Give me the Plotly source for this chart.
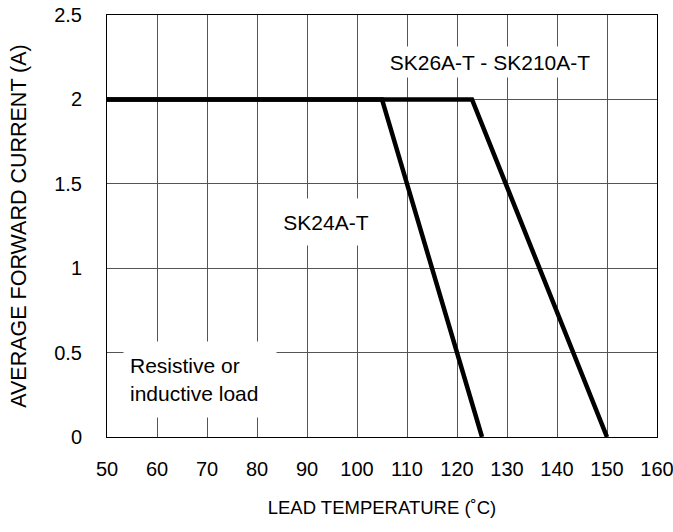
import plotly.graph_objects as go

# Data
sk24_temp = [50, 105, 125]
sk24_current = [2, 2, 0]
sk26_temp = [50, 123, 150]
sk26_current = [2, 2, 0]

x_ticks = [50, 60, 70, 80, 90, 100, 110, 120, 130, 140, 150, 160]
y_ticks = [0, 0.5, 1, 1.5, 2, 2.5]
y_tick_labels = ["0", "0.5", "1", "1.5", "2", "2.5"]

FONT = "Arial, Liberation Sans, sans-serif"

fig = go.Figure()
fig.add_trace(go.Scatter(x=sk26_temp, y=sk26_current, mode="lines",
                         line=dict(color="black", width=4.5), name="SK26A-T - SK210A-T",
                         hoverinfo="x+y"))
fig.add_trace(go.Scatter(x=sk24_temp, y=sk24_current, mode="lines",
                         line=dict(color="black", width=4.5), name="SK24A-T",
                         hoverinfo="x+y"))

ann_common = dict(showarrow=False, xref="x", yref="y", bgcolor="white",
                  font=dict(family=FONT, size=21, color="black"))
fig.add_annotation(x=68.6, y=0.34, text="Resistive or<br>inductive load",
                   align="left", width=140, height=63, borderpad=6, **ann_common)
fig.add_annotation(x=93.8, y=1.274, text="SK24A-T",
                   width=96, height=36, borderpad=5, **ann_common)
fig.add_annotation(x=126.6, y=2.219, text="SK26A-T - SK210A-T",
                   width=214, height=22, borderpad=4, **ann_common)

fig.update_layout(
    width=673, height=532,
    margin=dict(l=107, r=16, t=15, b=95),
    paper_bgcolor="white", plot_bgcolor="white",
    showlegend=False,
    font=dict(family=FONT, size=20, color="black"),
)
fig.update_xaxes(
    range=[50, 160], tickvals=x_ticks, ticktext=[str(v) for v in x_ticks],
    showgrid=True, gridcolor="#555", gridwidth=1,
    showline=True, linecolor="black", linewidth=1, mirror=True,
    ticks="", ticklabelstandoff=14, zeroline=False, automargin=False,
    ticklabeloverflow="allow",
    tickfont=dict(family=FONT, size=20),
    title=dict(text="LEAD TEMPERATURE (˚C)", standoff=22,
               font=dict(family=FONT, size=18.5)),
)
fig.update_yaxes(
    range=[0, 2.5], tickvals=y_ticks, ticktext=y_tick_labels,
    showgrid=True, gridcolor="#555", gridwidth=1,
    showline=True, linecolor="black", linewidth=1, mirror=True,
    ticks="", ticklabelstandoff=20, zeroline=False, automargin=False,
    ticklabeloverflow="allow",
    tickfont=dict(family=FONT, size=20),
    title=dict(text="AVERAGE FORWARD CURRENT (A)", standoff=21,
               font=dict(family=FONT, size=21.5)),
)

fig.write_html("out.html", config={"displayModeBar": False},
               post_script="document.body.style.margin='0';document.body.style.padding='0';")
